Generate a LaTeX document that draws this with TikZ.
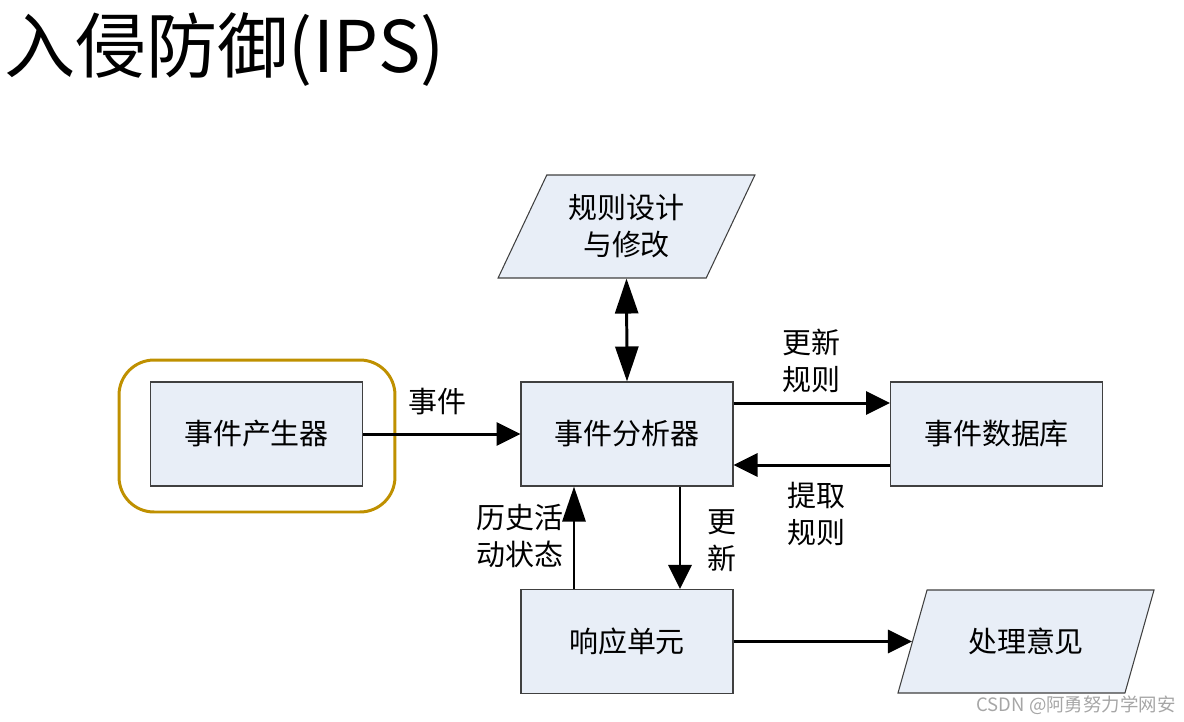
\documentclass[tikz,border=0pt]{standalone}
\usepackage{fontspec}
\setmainfont{Noto Sans CJK SC}
\usetikzlibrary{calc}
\usetikzlibrary{arrows.meta}
\usetikzlibrary{shapes.geometric}
\definecolor{boxfill}{RGB}{232,238,247}
\definecolor{boxline}{RGB}{64,64,64}
\definecolor{framegold}{RGB}{191,144,0}

\begin{document}
\begin{tikzpicture} [x=.02cm, y=-.02cm,
  box/.style={draw=boxline, fill=boxfill, line width=.6pt, minimum width=4.24cm, minimum height=2.08cm, inner sep=2pt, font=\fontsize{16.5}{21}\selectfont, align=center},
  para/.style={box, trapezium, trapezium left angle=62, trapezium right angle=118, trapezium stretches=true, minimum width=5.14cm, minimum height=2.06cm},
  arr/.style={line width=1.7pt, -{Triangle[length=.48cm, width=.46cm]}},
  longarr/.style={line width=1.7pt, -{Triangle[length=.7cm, width=.46cm]}},
  lbl/.style={font=\fontsize{16.5}{21}\selectfont, align=center, inner sep=0pt}]

\useasboundingbox (0,0) rectangle (1184,721);

\node[anchor=west, inner sep=0, font=\fontsize{40.5}{48}\selectfont] (title) at (4,50) {入侵防御(IPS)};

% boxes
\node[draw=framegold, line width=1.7pt, rounded corners=.7cm, minimum width=5.52cm, minimum height=3.04cm] (genframe) at (257,436) {};
\node[box] (gen) at (256.5,434) {事件产生器};
\node[box] (ana) at (627,434) {事件分析器};
\node[box] (db) at (996.5,434) {事件数据库};
\node[box] (resp) at (627,641.5) {响应单元};
\node[para] (rules) at (626.5,226.5) {规则设计\\与修改};
\node[para] (advice) at (1026,641.5) {处理意见};

% connectors
\draw[arr] (gen.east) -- (ana.west);
\draw[arr] ($(ana.east)+(0,-31)$) -- ($(db.west)+(0,-31)$);
\draw[arr] ($(db.west)+(0,31)$) -- ($(ana.east)+(0,31)$);
\draw[longarr] ($(resp.north)+(-53,0)$) -- ($(ana.south)+(-53,0)$);
\draw[arr] ($(ana.south)+(53,0)$) -- ($(resp.north)+(53,0)$);
\draw[arr] (resp.east) -- (advice.left side);
\draw[line width=1.7pt, {Triangle[length=.7cm, width=.46cm]}-{Triangle[length=.7cm, width=.46cm]}] (rules.south) -- (ana.north);

% labels
\node[lbl] (evlbl) at (437,402) {事件};
\node[lbl] (updlbl) at (811,361) {更新\\规则};
\node[lbl] (getlbl) at (816,514) {提取\\规则};
\node[lbl] (histlbl) at (520,536) {历史活\\动状态};
\node[lbl] (upd2lbl) at (722,541) {更\\新};

\node[text=gray!70, font=\fontsize{10.5}{12}\selectfont, anchor=east, inner sep=0] (mark) at (1176,705) {CSDN @阿勇努力学网安};

\end{tikzpicture}
\end{document}
